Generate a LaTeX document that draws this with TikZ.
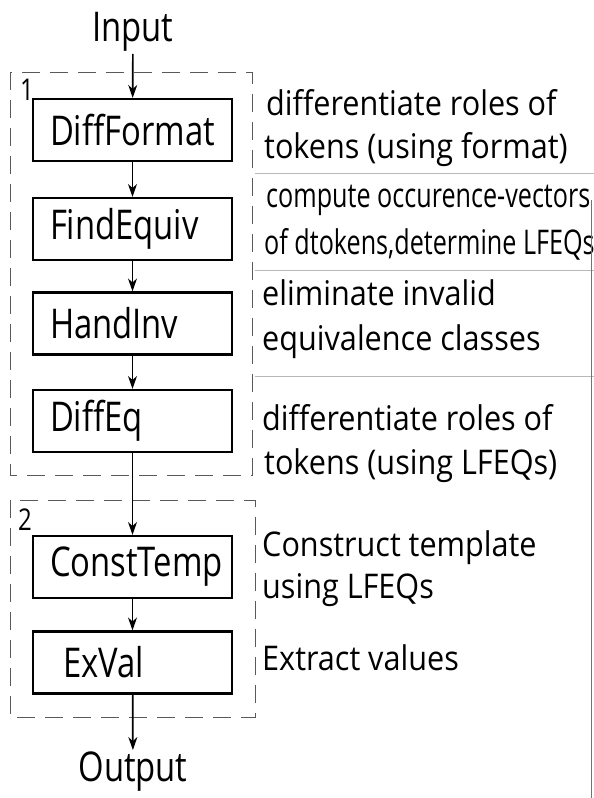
\documentclass[tikz,border=0pt]{standalone}
\usepackage{fontspec}
\setmainfont{Open Sans}
\newfontfamily\boxfont[FakeStretch=0.8]{Open Sans}
\newfontfamily\notefont[FakeStretch=0.9]{Open Sans}
\newfontfamily\tightnotefont[FakeStretch=0.74]{Open Sans}
\usetikzlibrary{arrows.meta}

\tikzset{
  stage/.style={draw, line width=2.2pt, minimum width=199pt, minimum height=62pt,
    inner xsep=17pt, inner ysep=0pt, text width=165pt, align=left,
    font=\boxfont\fontsize{41}{44}\selectfont},
  endpoint/.style={inner sep=2pt, font=\boxfont\fontsize{41}{44}\selectfont},
  grouptag/.style={inner sep=0pt, font=\boxfont\fontsize{30}{34}\selectfont},
  note/.style={anchor=base west, inner sep=0pt, font=\notefont\fontsize{34}{38}\selectfont},
  tightnote/.style={note, font=\tightnotefont\fontsize{34}{38}\selectfont},
  flow/.style={-{Stealth[length=13pt,width=9pt]}, line width=1.7pt},
  group/.style={draw=black!65, line width=1pt, dash pattern=on 18pt off 10pt},
  divider/.style={draw=black!28, line width=0.9pt},
}

\begin{document}
\begin{tikzpicture}[x=1pt,y=-1pt]
\useasboundingbox (0,0) rectangle (594,798);
\fill[white] (0,0) rectangle (594,798);

% dashed groups
\draw[group] (10,72) rectangle (252,475);
\draw[group] (10,500) rectangle (255,717);
\node[grouptag] (g1) at (27,90) {1};
\node[grouptag] (g2) at (25,520) {2};

% processing stages
\node[endpoint] (in)  at (133,32) {Input};
\node[stage] (df) at (132.5,130) {DiffFormat};
\node[stage] (fe) at (132.5,229) {FindEquiv};
\node[stage] (hi) at (132.5,323.5) {HandInv};
\node[stage] (de) at (132.5,421) {DiffEq};
\node[stage] (ct) at (132.5,567) {ConstTemp};
\node[stage] (ev) at (132.5,662.5) {\hspace*{13pt}ExVal};
\node[endpoint] (out) at (133,772) {Output};

% flow
\draw[flow] (in) -- (df);
\draw[flow] (df) -- (fe);
\draw[flow] (fe) -- (hi);
\draw[flow] (hi) -- (de);
\draw[flow] (de) -- (ct);
\draw[flow] (ct) -- (ev);
\draw[flow] (ev) -- (out);

% descriptions
\node[note] (n1a) at (266,115) {differentiate roles of};
\node[note] (n1b) at (264,158) {tokens (using format)};
\node[tightnote] (n2a) at (266,207) {compute occurence-vectors};
\node[tightnote] (n2b) at (264,254) {of dtokens,determine LFEQs};
\node[note] (n3a) at (262,305) {eliminate invalid};
\node[note] (n3b) at (262,350) {equivalence classes};
\node[note] (n4a) at (262,430) {differentiate roles of};
\node[note] (n4b) at (264,474) {tokens (using LFEQs)};
\node[note] (n5a) at (262,556) {Construct template};
\node[note] (n5b) at (262,598) {using LFEQs};
\node[note] (n6a) at (262,670) {Extract values};

% dividers between descriptions
\coordinate (r1) at (594,173);
\coordinate (r2) at (594,270);
\coordinate (r3) at (594,376);
\draw[divider] (255,173) -- (r1);
\draw[divider] (255,270) -- (r2);
\draw[divider] (255,376) -- (r3);
\draw[draw=black!55, line width=1pt] (591,200) -- (591,798);
\end{tikzpicture}
\end{document}
